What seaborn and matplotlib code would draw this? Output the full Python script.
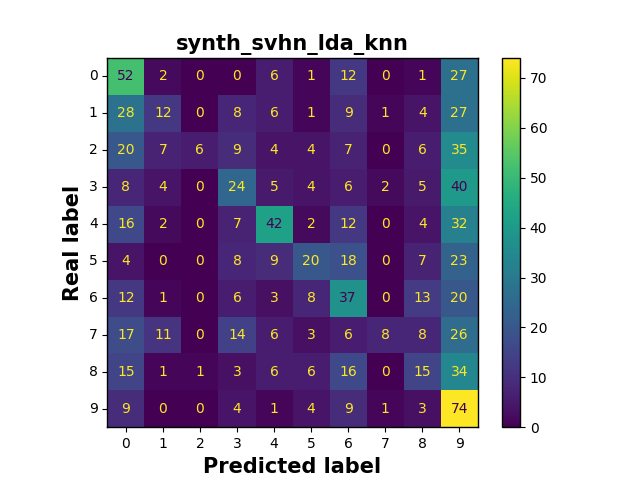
import numpy as np
import pandas as pd
import matplotlib
matplotlib.use("Agg")
import matplotlib.pyplot as plt
import seaborn as sns

# class labels (digits 0-9)
labels = [str(i) for i in range(10)]

# confusion matrix rows = real label, cols = predicted label
row0 = [52, 2, 0, 0, 6, 1, 12, 0, 1, 27]
row1 = [28, 12, 0, 8, 6, 1, 9, 1, 4, 27]
row2 = [20, 7, 6, 9, 4, 4, 7, 0, 6, 35]
row3 = [8, 4, 0, 24, 5, 4, 6, 2, 5, 40]
row4 = [16, 2, 0, 7, 42, 2, 12, 0, 4, 32]
row5 = [4, 0, 0, 8, 9, 20, 18, 0, 7, 23]
row6 = [12, 1, 0, 6, 3, 8, 37, 0, 13, 20]
row7 = [17, 11, 0, 14, 6, 3, 6, 8, 8, 26]
row8 = [15, 1, 1, 3, 6, 6, 16, 0, 15, 34]
row9 = [9, 0, 0, 4, 1, 4, 9, 1, 3, 74]

cm = np.array([row0, row1, row2, row3, row4, row5, row6, row7, row8, row9])
df = pd.DataFrame(cm, index=labels, columns=labels)

fig = plt.figure(figsize=(6.4, 4.8), dpi=100)
ax = fig.add_axes([0.1677, 0.1098, 0.5788, 0.7694])
cax = fig.add_axes([0.7848, 0.1098, 0.0277, 0.7694])

sns.heatmap(df, ax=ax, cbar_ax=cax, cmap="viridis", vmin=0, vmax=cm.max(),
            annot=True, fmt="d", annot_kws={"fontsize": 10})

# text colour like sklearn: light on dark cells, dark on bright cells
cmap = plt.get_cmap("viridis")
thresh = (cm.max() + cm.min()) / 2.0
for t in ax.texts:
    v = int(t.get_text())
    t.set_color(cmap(0.0) if v >= thresh else cmap(1.0))

for s in ax.spines.values():
    s.set_visible(True)
    s.set_linewidth(1.0)
cb = ax.collections[0].colorbar
cb.outline.set_linewidth(1.0)
cb.set_ticks(range(0, 71, 10))
cb.ax.tick_params(labelsize=10)

ax.tick_params(labelsize=10)
ax.set_yticklabels(labels, rotation=0)
ax.set_xticklabels(labels, rotation=0)
ax.set_title("synth_svhn_lda_knn", fontsize=15, fontweight="bold")
ax.set_xlabel("Predicted label", fontsize=15, fontweight="bold")
ax.set_ylabel("Real label", fontsize=15, fontweight="bold")

fig.savefig("out.png", dpi=100)
